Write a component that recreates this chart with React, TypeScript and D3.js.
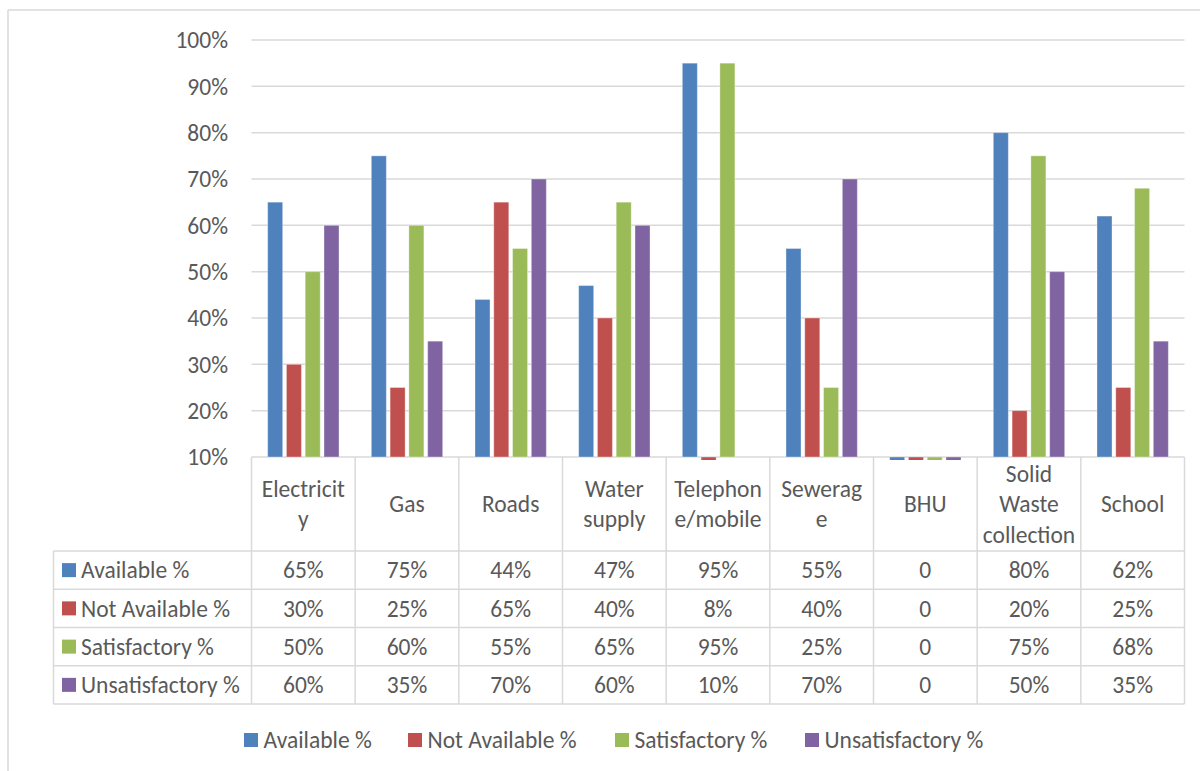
import React from "react";
import * as d3 from "d3";

const categories = [
  "Electricity",
  "Gas",
  "Roads",
  "Water supply",
  "Telephone/mobile",
  "Sewerage",
  "BHU",
  "Solid Waste collection",
  "School",
];
// category labels wrapped the way the original table wraps them
const categoryLines = [
  ["Electricit", "y"],
  ["Gas"],
  ["Roads"],
  ["Water", "supply"],
  ["Telephon", "e/mobile"],
  ["Sewerag", "e"],
  ["BHU"],
  ["Solid", "Waste", "collection"],
  ["School"],
];
const seriesNames = ["Available %", "Not Available %", "Satisfactory %", "Unsatisfactory %"];
const available = [65, 75, 44, 47, 95, 55, 0, 80, 62];
const notAvailable = [30, 25, 65, 40, 8, 40, 0, 20, 25];
const satisfactory = [50, 60, 55, 65, 95, 25, 0, 75, 68];
const unsatisfactory = [60, 35, 70, 60, 10, 70, 0, 50, 35];
const yTicks = [10, 20, 30, 40, 50, 60, 70, 80, 90, 100];
const colors = ["#4F81BD", "#C0504D", "#9BBB59", "#8064A2"];

const seriesValues = [available, notAvailable, satisfactory, unsatisfactory];

const W = 1200;
const H = 771;
const FONT = "Carlito, Calibri, Lato, 'Open Sans', sans-serif";
const FS = 23.5;
const TEXT = "#595959";
const GRID = "#D9D9D9";

export default function App() {
  const left = 251.5;
  const right = 1184.5;
  const top = 40;
  const base = 457;
  const tableLeft = 53.5;
  const headerBottom = 551;
  const tableBottom = 704;

  const x = d3.scaleBand<string>().domain(categories).range([left, right]);
  const x1 = d3
    .scaleBand<string>()
    .domain(seriesNames)
    .range([0, x.bandwidth()])
    .paddingInner(0.2)
    .paddingOuter(0.86);
  const y = d3.scaleLinear().domain([10, 100]).range([base, top]);
  const rows = d3.scaleBand<string>().domain(seriesNames).range([headerBottom, tableBottom]);

  const fmt = (v: number) => (v === 0 ? "0" : v + "%");
  const boundaries = [...categories.map((c) => x(c)!), right];

  const legendX = [244, 408, 615, 805];

  return (
    <div style={{ position: "absolute", left: 0, top: 0 }}>
      <svg width={W} height={H} style={{ display: "block", background: "#fff" }} fontFamily={FONT}>
        <defs>
          <clipPath id="plot">
            <rect x={left} y={0} width={right - left} height={base + 3} />
          </clipPath>
        </defs>

        {/* chart border */}
        <line x1={8} x2={8} y1={10} y2={H} stroke={GRID} strokeWidth={1.5} />
        <line x1={8} x2={W} y1={10} y2={10} stroke={GRID} strokeWidth={1.5} />

        {/* gridlines + y labels */}
        {yTicks.map((t) => (
          <g key={t}>
            <line x1={left} x2={right} y1={y(t)} y2={y(t)} stroke={GRID} strokeWidth={1.5} />
            <text x={228} y={y(t)} dy="0.35em" textAnchor="end" fontSize={FS} fill={TEXT}>
              {t}%
            </text>
          </g>
        ))}

        {/* bars */}
        <g clipPath="url(#plot)">
          {categories.map((c, ci) =>
            seriesNames.map((s, si) => {
              const v = seriesValues[si][ci];
              const y0 = y(Math.max(v, 10));
              const y1 = y(Math.min(v, 10));
              return (
                <rect
                  key={c + s}
                  x={x(c)! + x1(s)!}
                  y={y0}
                  width={x1.bandwidth()}
                  height={y1 - y0}
                  fill={colors[si]}
                  stroke="#ffffff"
                  strokeOpacity={0.35}
                  strokeWidth={1}
                />
              );
            })
          )}
        </g>

        {/* table header */}
        {boundaries.map((bx, i) => (
          <line key={"hv" + i} x1={bx} x2={bx} y1={base} y2={tableBottom} stroke={GRID} strokeWidth={1.5} />
        ))}
        {categories.map((c, ci) => {
          const lines = categoryLines[ci];
          const cy = (base + headerBottom) / 2;
          const lh = 30.5;
          return (
            <text key={"h" + c} textAnchor="middle" fontSize={FS} fill={TEXT}>
              {lines.map((l, li) => (
                <tspan key={li} x={x(c)! + x.bandwidth() / 2} y={cy + (li - (lines.length - 1) / 2) * lh} dy="0.35em">
                  {l}
                </tspan>
              ))}
            </text>
          );
        })}

        {/* table body */}
        {[...seriesNames.map((s) => rows(s)!), tableBottom].map((ry, i) => (
          <line key={"hr" + i} x1={tableLeft} x2={right} y1={ry} y2={ry} stroke={GRID} strokeWidth={1.5} />
        ))}
        <line x1={tableLeft} x2={tableLeft} y1={headerBottom} y2={tableBottom} stroke={GRID} strokeWidth={1.5} />
        {seriesNames.map((s, si) => {
          const cy = rows(s)! + rows.bandwidth() / 2;
          return (
            <g key={"r" + s}>
              <rect x={62} y={cy - 7} width={14} height={14} fill={colors[si]} />
              <text x={81} y={cy} dy="0.35em" fontSize={FS} fill={TEXT}>
                {s}
              </text>
              {categories.map((c, ci) => (
                <text
                  key={c}
                  x={x(c)! + x.bandwidth() / 2}
                  y={cy}
                  dy="0.35em"
                  textAnchor="middle"
                  fontSize={FS}
                  fill={TEXT}
                >
                  {fmt(seriesValues[si][ci])}
                </text>
              ))}
            </g>
          );
        })}

        {/* legend */}
        {seriesNames.map((s, si) => (
          <g key={"l" + s} transform={`translate(${legendX[si]},740)`}>
            <rect x={0} y={-7} width={14} height={14} fill={colors[si]} />
            <text x={19.5} y={0} dy="0.35em" fontSize={FS} fill={TEXT}>
              {s}
            </text>
          </g>
        ))}
      </svg>
    </div>
  );
}
